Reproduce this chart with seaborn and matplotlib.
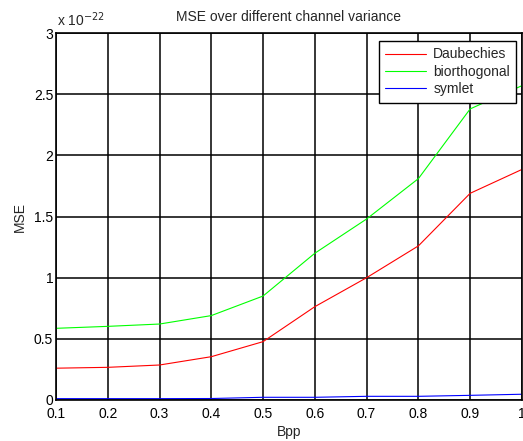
import numpy as np
import pandas as pd
import matplotlib
matplotlib.use("Agg")
import matplotlib.pyplot as plt
import seaborn as sns

bpp = [0.1, 0.2, 0.3, 0.4, 0.5, 0.6, 0.7, 0.8, 0.9, 1.0]
daubechies = [0.26, 0.267, 0.286, 0.354, 0.477, 0.763, 1.0, 1.26, 1.69, 1.885]
biorthogonal = [0.586, 0.602, 0.621, 0.69, 0.85, 1.2, 1.48, 1.81, 2.38, 2.57]
symlet = [0.011, 0.011, 0.011, 0.012, 0.022, 0.022, 0.03, 0.03, 0.038, 0.047]
series_names = ["Daubechies", "biorthogonal", "symlet"]
colors = ["#ff0000", "#00ff00", "#0000ff"]
yticks = [0, 0.5, 1, 1.5, 2, 2.5, 3]
yticklabels = ["0", "0.5", "1", "1.5", "2", "2.5", "3"]
xticks = [0.1, 0.2, 0.3, 0.4, 0.5, 0.6, 0.7, 0.8, 0.9, 1.0]
xticklabels = ["0.1", "0.2", "0.3", "0.4", "0.5", "0.6", "0.7", "0.8", "0.9", "1"]

df = pd.DataFrame({
    "Bpp": bpp * 3,
    "MSE": daubechies + biorthogonal + symlet,
    "wavelet": [n for n in series_names for _ in bpp],
})

sns.set_style("white")
plt.rcParams["font.family"] = ["Liberation Sans", "DejaVu Sans"]
fs = 10

fig = plt.figure(figsize=(5.23, 4.41), dpi=100)
ax = fig.add_axes([0.107, 0.093, 0.891, 0.832])

sns.lineplot(data=df, x="Bpp", y="MSE", hue="wavelet", hue_order=series_names,
             palette=colors, linewidth=0.8, ax=ax, legend=True)

ax.set_xlim(0.1, 1.0)
ax.set_ylim(0, 3)
ax.set_xticks(xticks)
ax.set_xticklabels(xticklabels)
ax.set_yticks(yticks)
ax.set_yticklabels(yticklabels)
ax.tick_params(axis="x", labelsize=fs, length=0, pad=5, colors="black")
ax.tick_params(axis="y", labelsize=fs, length=0, pad=2, colors="black")
ax.grid(True, color="black", linewidth=1.1, linestyle="-")
for s in ax.spines.values():
    s.set_color("black")
    s.set_linewidth(1.2)
ax.set_xlabel("Bpp", fontsize=fs, labelpad=3)
ax.set_ylabel("MSE", fontsize=fs, labelpad=5)
ax.set_title("MSE over different channel variance", fontsize=fs, pad=9)
ax.text(0.002, 1.012, r"x 10$^{-22}$", transform=ax.transAxes, fontsize=fs,
        ha="left", va="bottom")

leg = ax.legend(loc="upper right", bbox_to_anchor=(0.988, 0.978), fontsize=fs,
                frameon=True, fancybox=False, edgecolor="black",
                handlelength=3.0, borderpad=0.45, labelspacing=0.25,
                handletextpad=0.5, borderaxespad=0.0)
leg.get_frame().set_linewidth(1.0)
leg.get_frame().set_facecolor("white")
leg.get_frame().set_alpha(1.0)

fig.savefig("out.png", dpi=100)
